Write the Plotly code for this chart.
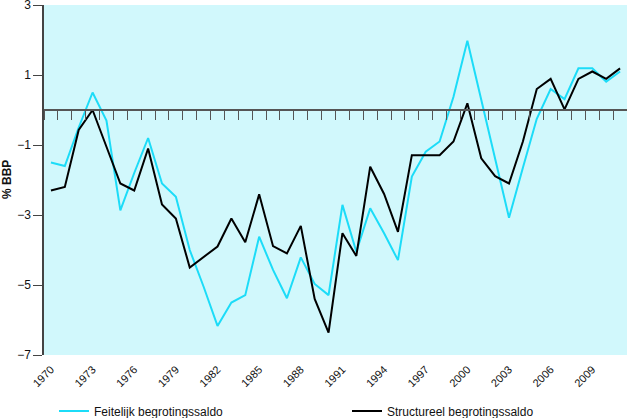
import plotly.graph_objects as go

years = list(range(1970, 2012))

feitelijk = [-1.5, -1.6, -0.5, 0.5, -0.3, -2.87, -1.8, -0.8, -2.1, -2.48,
             -4.0, -5.05, -6.17, -5.5, -5.29, -3.62, -4.57, -5.38, -4.21, -4.97,
             -5.29, -2.71, -4.05, -2.81, -3.52, -4.29, -1.9, -1.19, -0.9, 0.38,
             1.98, 0.3, -1.4, -3.08, -1.65, -0.25, 0.6, 0.31, 1.19, 1.19,
             0.81, 1.1]

structureel = [-2.3, -2.2, -0.57, 0.0, -1.05, -2.1, -2.3, -1.1, -2.7, -3.1,
               -4.5, -4.19, -3.9, -3.1, -3.78, -2.41, -3.89, -4.1, -3.31, -5.4,
               -6.36, -3.52, -4.17, -1.62, -2.4, -3.48, -1.29, -1.29, -1.29, -0.9,
               0.19, -1.38, -1.89, -2.1, -0.9, 0.6, 0.89, 0.02, 0.89, 1.1,
               0.89, 1.19]

y_ticks = [-7, -5, -3, -1, 1, 3]
x_ticks = list(range(1970, 2010, 3))
y_title = "% BBP"

FONT = "Liberation Sans, Arial, sans-serif"

fig = go.Figure()
fig.add_trace(go.Scatter(x=years, y=feitelijk, mode="lines",
                         name="Feitelijk begrotingssaldo", legend="legend",
                         line=dict(color="#1CDCF8", width=2)))
fig.add_trace(go.Scatter(x=years, y=structureel, mode="lines",
                         name="Structureel begrotingssaldo", legend="legend2",
                         xaxis="x2",
                         line=dict(color="#000000", width=2)))

legend_common = dict(orientation="h", xref="container", xanchor="left",
                     y=-0.16, yanchor="middle",
                     font=dict(family=FONT, size=12, color="#111111"),
                     bgcolor="rgba(0,0,0,0)")

fig.add_annotation(text="<b>" + y_title + "</b>", xref="paper", yref="paper",
                   x=-37 / 583, y=0.5, xanchor="center", yanchor="middle",
                   textangle=-90, showarrow=False,
                   font=dict(family=FONT, size=12, color="#111111"))

fig.update_layout(
    width=627, height=418,
    margin=dict(l=44, r=0, t=5, b=63, autoexpand=False),
    paper_bgcolor="white",
    plot_bgcolor="#D1F8FC",
    font=dict(family=FONT, size=12, color="#111111"),
    showlegend=True,
    legend=dict(x=54 / 627, **legend_common),
    legend2=dict(x=347 / 627, **legend_common),
    xaxis=dict(range=[1969.5, 2011.5], tickmode="array", tickvals=x_ticks,
               ticktext=[str(v) for v in x_ticks], tickangle=-45,
               ticks="", showgrid=False, zeroline=False, showline=False,
               ticklabelstandoff=5,
               tickfont=dict(size=11, color="#111111")),
    xaxis2=dict(range=[1969.5, 2011.5], overlaying="x", anchor="free", position=0.7,
                side="bottom", showline=True, linecolor="#555555", linewidth=1.5,
                ticks="outside", ticklen=9, tickwidth=1, tickcolor="#555555",
                tick0=1969.5, dtick=1, showticklabels=False, showgrid=False,
                zeroline=False),
    yaxis=dict(range=[-7, 3], tickmode="array", tickvals=y_ticks,
               ticks="outside", ticklen=9, tickcolor="#444444",
               showline=True, linecolor="#444444", linewidth=1.5,
               showgrid=False, zeroline=False, ticklabeloverflow="allow",
               tickfont=dict(size=12, color="#111111")),
)

fig.write_html("out.html")
